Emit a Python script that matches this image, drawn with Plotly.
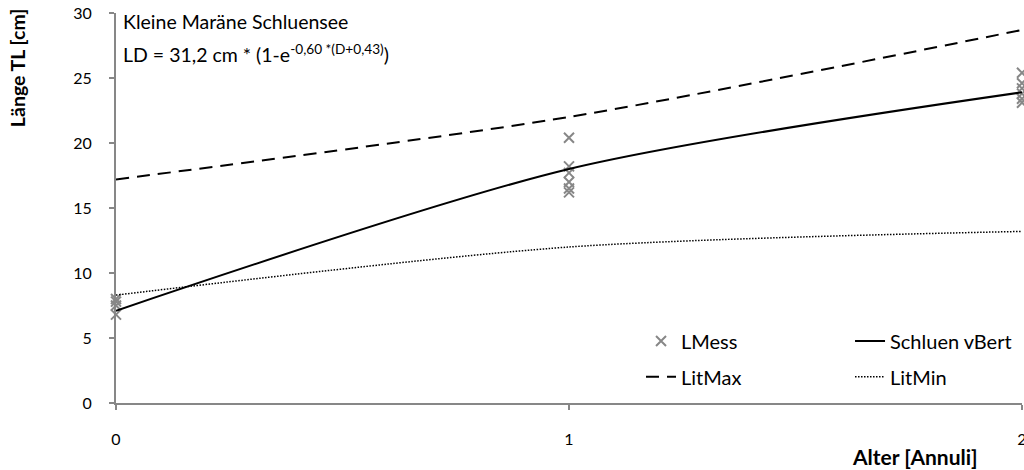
import plotly.graph_objects as go

# Measured lengths per age class (Alter in Annuli)
mess_age = [0, 0, 0, 0, 1, 1, 1, 1, 1, 1, 2, 2, 2, 2, 2, 2]
mess_len = [8.0, 7.8, 7.5, 6.8, 20.4, 18.2, 17.7, 17.0, 16.5, 16.2,
            25.4, 24.6, 24.2, 23.8, 23.4, 23.1]

# Growth curves at the age classes
age = [0, 1, 2]
vbert_len = [7.1, 18.0, 23.9]
litmax_len = [17.2, 22.0, 28.7]
litmin_len = [8.3, 12.0, 13.2]

x_ticks = [0, 1, 2]
y_ticks = [0, 5, 10, 15, 20, 25, 30]

FONT = "Lato"
GRAY = "#878787"

fig = go.Figure()

fig.add_trace(go.Scatter(
    x=mess_age, y=mess_len, mode="markers", name="LMess", legend="legend",
    marker=dict(symbol="x-thin", size=10, line=dict(color=GRAY, width=2), color=GRAY),
    cliponaxis=False,
))
fig.add_trace(go.Scatter(
    x=age, y=vbert_len, mode="lines", name="Schluen vBert", legend="legend",
    line=dict(color="black", width=2, shape="spline", smoothing=0.8),
    cliponaxis=False,
))
fig.add_trace(go.Scatter(
    x=age, y=litmax_len, mode="lines", name="LitMax", legend="legend2",
    line=dict(color="black", width=2, dash="13px,8px", shape="spline", smoothing=0.8),
    cliponaxis=False,
))
fig.add_trace(go.Scatter(
    x=age, y=litmin_len, mode="lines", name="LitMin", legend="legend2",
    line=dict(color="black", width=1.5, dash="1.5px,1.5px", shape="spline", smoothing=0.8),
    cliponaxis=False,
))

legend_common = dict(
    orientation="h", xanchor="left", yanchor="middle",
    entrywidth=164, entrywidthmode="pixels",
    font=dict(family=FONT, size=20, color="black"),
    bgcolor="rgba(0,0,0,0)", borderwidth=0, itemclick=False,
)

fig.update_layout(
    width=1024, height=470,
    margin=dict(l=116, r=2, t=13, b=67, autoexpand=False),
    paper_bgcolor="white", plot_bgcolor="white",
    font=dict(family=FONT, color="black"),
    showlegend=True,
    legend=dict(x=0.5795, y=0.159, **legend_common),
    legend2=dict(x=0.5795, y=0.067, **legend_common),
    xaxis=dict(
        range=[0, 2], tickvals=x_ticks, ticktext=[str(v) for v in x_ticks],
        automargin=False, ticklabeloverflow="allow",
        showgrid=False, zeroline=False, showline=True, linecolor=GRAY, linewidth=2,
        ticks="outside", ticklen=5, tickwidth=2, tickcolor=GRAY,
        ticklabelstandoff=16, tickfont=dict(family=FONT, size=16, color="black"),
    ),
    yaxis=dict(
        range=[0, 30], tickvals=y_ticks, ticktext=[str(v) for v in y_ticks],
        automargin=False,
        showgrid=False, zeroline=False, showline=True, linecolor=GRAY, linewidth=2,
        ticks="outside", ticklen=5, tickwidth=2, tickcolor=GRAY,
        ticklabelstandoff=14, tickfont=dict(family=FONT, size=16, color="black"),
    ),
    annotations=[
        dict(text="Kleine Maräne Schluensee", xref="paper", yref="paper",
             x=0.006, y=0.977, xanchor="left", yanchor="middle", showarrow=False,
             font=dict(family=FONT, size=19.5, color="black")),
        dict(text="LD = 31,2 cm * (1-e<sup>-0,60 *(D+0,43)</sup>)", xref="paper", yref="paper",
             x=0.006, y=0.897, xanchor="left", yanchor="middle", showarrow=False,
             font=dict(family=FONT, size=19.5, color="black")),
        dict(text="<b>Länge TL [cm]</b>", xref="paper", yref="paper",
             x=-0.108, y=0.859, xanchor="center", yanchor="middle", textangle=-90,
             showarrow=False, font=dict(family=FONT, size=19.5, color="black")),
        dict(text="<b>Alter [Annuli]</b>", xref="paper", yref="paper",
             x=0.954, y=-0.136, xanchor="right", yanchor="middle",
             showarrow=False, font=dict(family=FONT, size=21, color="black")),
    ],
)

fig.write_html("out.html")
